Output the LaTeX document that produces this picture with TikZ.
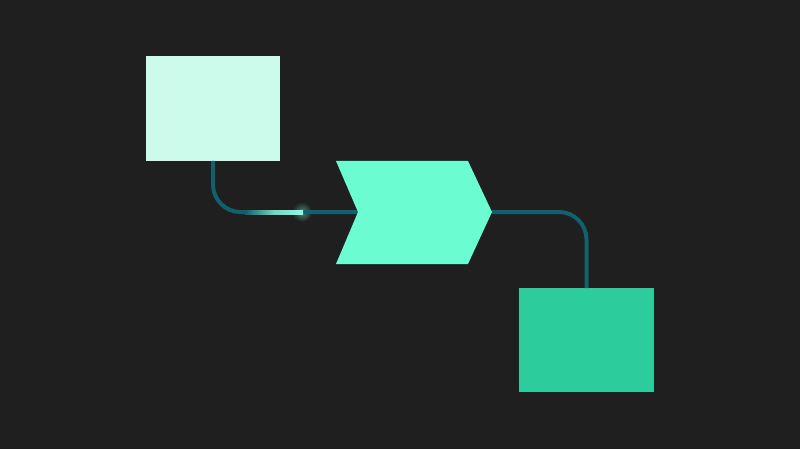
\documentclass[tikz,border=0pt]{standalone}
\usepackage{tikz}
\usetikzlibrary{positioning}

\definecolor{bgcol}{HTML}{1F1F1F}
\definecolor{palecol}{HTML}{CCFBEC}
\definecolor{chevcol}{HTML}{6BFCD2}
\definecolor{deepcol}{HTML}{2DCC9C}
\definecolor{linecol}{HTML}{10616C}
\definecolor{glowcol}{HTML}{8CFFE2}

\tikzset{
    block/.style={rectangle, inner sep=0pt, outer sep=0pt},
    link/.style={draw=linecol, line width=0.08cm, rounded corners=0.55cm}
}

\begin{document}
\begin{tikzpicture}[x=0.02cm, y=-0.02cm]
    \fill[bgcol] (0,0) rectangle (800,449);

    \node[block, fill=palecol, minimum width=2.68cm, minimum height=2.1cm] (src) at (213,108.5) {};
    \node[block, fill=deepcol, minimum width=2.7cm, minimum height=2.08cm] (dst) at (586.5,340) {};

    \coordinate (chevin) at (358,212);
    \coordinate (chevout) at (492,212);

    % glow at the head of the moving pulse
    \shade[inner color=glowcol!45!bgcol, outer color=bgcol] (302,212) circle (0.2cm);

    \draw[link] (src.south) |- (chevin);
    \draw[link] (chevout) -| (dst.north);

    \shade[left color=linecol, right color=glowcol, middle color=glowcol!75!linecol] (245,210) rectangle (303,214);

    \fill[chevcol] (336,161) -- (468,161) -- (chevout) -- (468,264) -- (336,264) -- (chevin) -- cycle;
\end{tikzpicture}
\end{document}
